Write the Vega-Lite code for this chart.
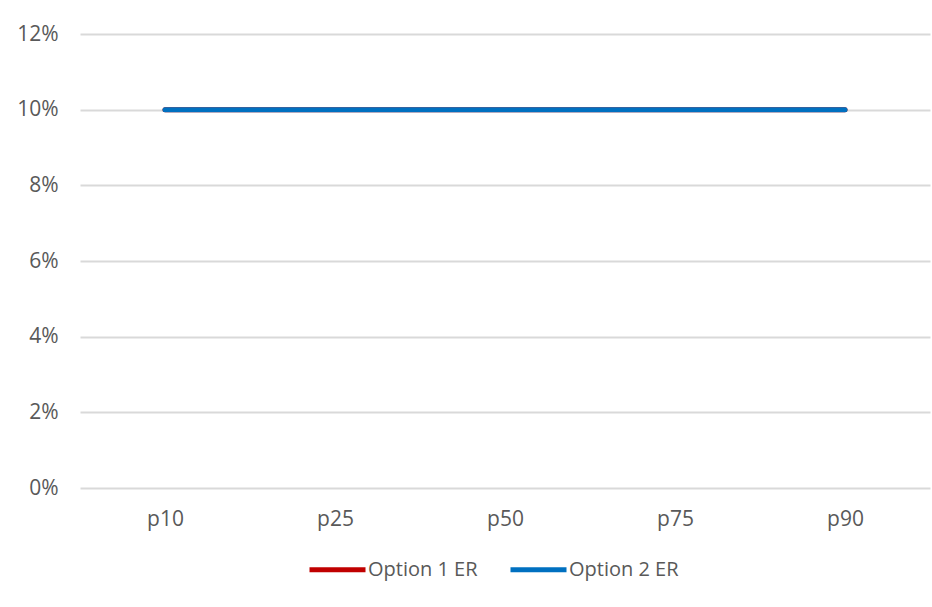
{
  "$schema": "https://vega.github.io/schema/vega-lite/v6.json",
  "autosize": {"type": "none"},
  "padding": {"left": 80, "top": 34, "right": 2, "bottom": 119},
  "width": 850,
  "height": 454,
  "background": "white",
  "config": {
    "view": {"stroke": null},
    "font": "Open Sans"
  },
  "data": {
    "values": [
      {"pct": "p10", "series": "Option 1 ER", "value": 0.10},
      {"pct": "p25", "series": "Option 1 ER", "value": 0.10},
      {"pct": "p50", "series": "Option 1 ER", "value": 0.10},
      {"pct": "p75", "series": "Option 1 ER", "value": 0.10},
      {"pct": "p90", "series": "Option 1 ER", "value": 0.10},
      {"pct": "p10", "series": "Option 2 ER", "value": 0.10},
      {"pct": "p25", "series": "Option 2 ER", "value": 0.10},
      {"pct": "p50", "series": "Option 2 ER", "value": 0.10},
      {"pct": "p75", "series": "Option 2 ER", "value": 0.10},
      {"pct": "p90", "series": "Option 2 ER", "value": 0.10}
    ]
  },
  "mark": {"type": "line", "strokeWidth": 5, "strokeCap": "round", "strokeJoin": "round"},
  "encoding": {
    "x": {
      "field": "pct", "type": "nominal", "sort": null,
      "scale": {"type": "point", "padding": 0.5},
      "axis": {"title": null, "domain": false, "ticks": false, "grid": false, "labelAngle": 0,
               "labelFontSize": 21, "labelColor": "#595959", "labelPadding": 20}
    },
    "y": {
      "field": "value", "type": "quantitative",
      "scale": {"domain": [0, 0.12], "nice": false},
      "axis": {"title": null, "domain": false, "ticks": false, "format": ".0%",
               "values": [0, 0.02, 0.04, 0.06, 0.08, 0.1, 0.12],
               "gridColor": "#D9D9D9", "gridWidth": 2,
               "labelFontSize": 21, "labelColor": "#595959", "labelPadding": 22}
    },
    "color": {
      "field": "series", "type": "nominal",
      "scale": {"domain": ["Option 1 ER", "Option 2 ER"], "range": ["#C00000", "#0070C0"]},
      "legend": {
        "title": null, "orient": "none", "direction": "horizontal",
        "legendX": 227, "legendY": 505,
        "symbolType": "stroke", "symbolSize": 3136, "symbolStrokeWidth": 5,
        "labelFontSize": 20, "labelColor": "#595959", "labelOffset": 0,
        "columnPadding": 22
      }
    },
    "order": {"field": "series"}
  }
}
